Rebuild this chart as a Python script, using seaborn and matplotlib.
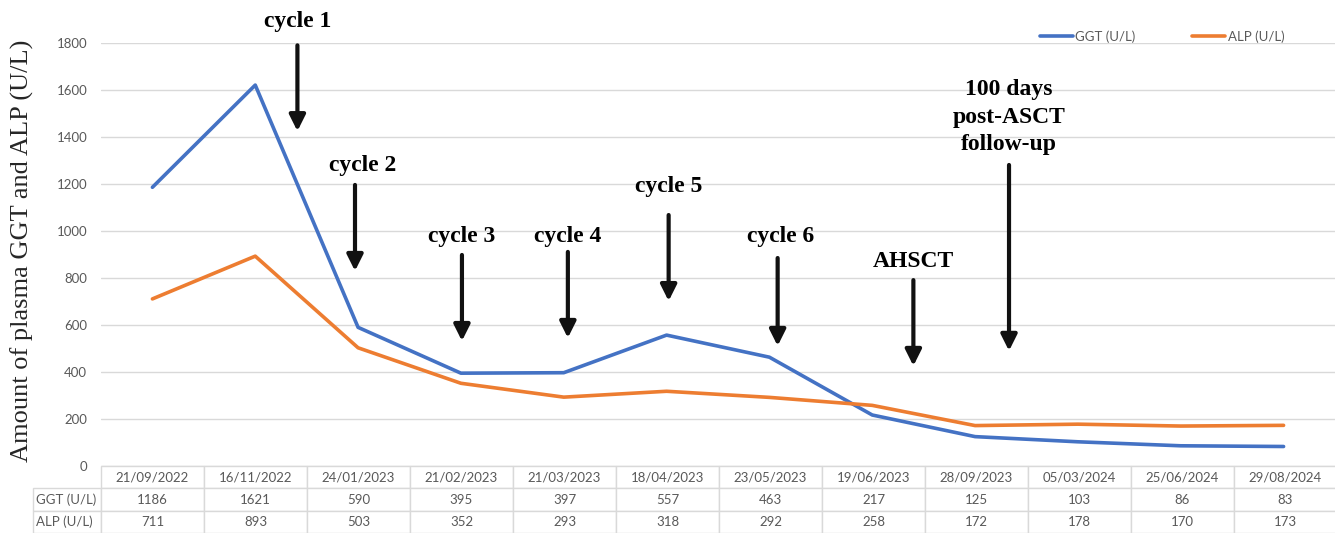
import matplotlib
matplotlib.use("Agg")
import matplotlib.pyplot as plt
import seaborn as sns
import pandas as pd

dates = ["21/09/2022", "16/11/2022", "24/01/2023", "21/02/2023", "21/03/2023", "18/04/2023",
         "23/05/2023", "19/06/2023", "28/09/2023", "05/03/2024", "25/06/2024", "29/08/2024"]
ggt = [1186, 1621, 590, 395, 397, 557, 463, 217, 125, 103, 86, 83]
alp = [711, 893, 503, 352, 293, 318, 292, 258, 172, 178, 170, 173]
series_names = ["GGT (U/L)", "ALP (U/L)"]
colors = ["#4472C4", "#ED7D31"]

# treatment annotations: label, x (category index), text y, arrow tail y, arrow head y
events = ["cycle 1", "cycle 2", "cycle 3", "cycle 4", "cycle 5", "cycle 6", "AHSCT",
          "100 days\npost-ASCT\nfollow-up"]
event_x = [1.41, 1.97, 3.01, 4.04, 5.02, 6.08, 7.40, 8.33]
text_x = [1.41, 2.04, 3.01, 4.04, 5.02, 6.11, 7.40, 8.33]
text_y = [1890, 1280, 975, 975, 1190, 975, 870, 1485]
arrow_top = [1790, 1196, 898, 911, 1068, 885, 791, 1281]
arrow_bottom = [1425, 830, 532, 545, 702, 511, 426, 490]

df = pd.DataFrame({
    "idx": list(range(len(dates))) * 2,
    "value": ggt + alp,
    "series": [series_names[0]] * len(dates) + [series_names[1]] * len(dates),
})

sns.set_style("white")
plt.rcParams["font.family"] = ["Lato", "DejaVu Sans"]

fig = plt.figure(figsize=(13.35, 5.33), dpi=100)
ax = fig.add_axes([101 / 1335, 67 / 533, 1234 / 1335, 423 / 533])

sns.lineplot(data=df, x="idx", y="value", hue="series", palette=colors,
             linewidth=2.6, ax=ax, legend=False)

ax.set_xlim(-0.5, len(dates) - 0.5)
ax.set_ylim(0, 1800)
ax.set_yticks(range(0, 1801, 200))
ax.tick_params(axis="y", length=0, labelsize=9.5, labelcolor="#595959", pad=10)
ax.set_xticks([])
ax.set_xlabel("")
ax.set_ylabel("")
ax.grid(axis="y", color="#D9D9D9", linewidth=1)
for s in ["left", "right", "top", "bottom"]:
    ax.spines[s].set_visible(False)

fig.text(0.017, 0.53, "Amount of plasma GGT and ALP (U/L)", rotation=90,
         ha="center", va="center", family="Liberation Serif", fontsize=19)

# legend top right
handles = [plt.Line2D([], [], color=c, lw=2.6) for c in colors]
ax.legend(handles, series_names, loc="center", bbox_to_anchor=(0.86, 1.015),
          ncol=2, frameon=False, fontsize=9.5, labelcolor="#595959",
          handlelength=2.5, handletextpad=0.2, columnspacing=4.3)

# annotations
for lab, ax_x, tx, ty, top, bot in zip(events, event_x, text_x, text_y, arrow_top, arrow_bottom):
    ax.text(tx, ty, lab, ha="center", va="center", family="Liberation Serif",
            fontweight="bold", fontsize=17, linespacing=1.4, color="black")
    ax.annotate("", xy=(ax_x, bot), xytext=(ax_x, top), annotation_clip=False,
                arrowprops=dict(arrowstyle="-|>", color="#111111", lw=3,
                                mutation_scale=24, shrinkA=0, shrinkB=0))

# data table below the axes
cell_text = [[""] + dates,
             [series_names[0]] + [str(v) for v in ggt],
             [series_names[1]] + [str(v) for v in alp]]
lab_w = 68
col_w = 103
total = lab_w + col_w * len(dates)
tab = ax.table(cellText=cell_text, cellLoc="center",
               colWidths=[lab_w / total] + [col_w / total] * len(dates),
               bbox=[-lab_w / 1234, -67 / 423, total / 1234, 67 / 423])
tab.auto_set_font_size(False)
for (r, c), cell in tab.get_celld().items():
    cell.set_edgecolor("#D9D9D9")
    cell.set_linewidth(1)
    cell.get_text().set_fontsize(9.5)
    cell.get_text().set_color("#595959")
    if c == 0:
        cell.get_text().set_ha("left")
        cell._loc = "left"
        cell.PAD = 0.05
    if r == 0 and c == 0:
        cell.visible_edges = ""

fig.savefig("out.png", dpi=100)
